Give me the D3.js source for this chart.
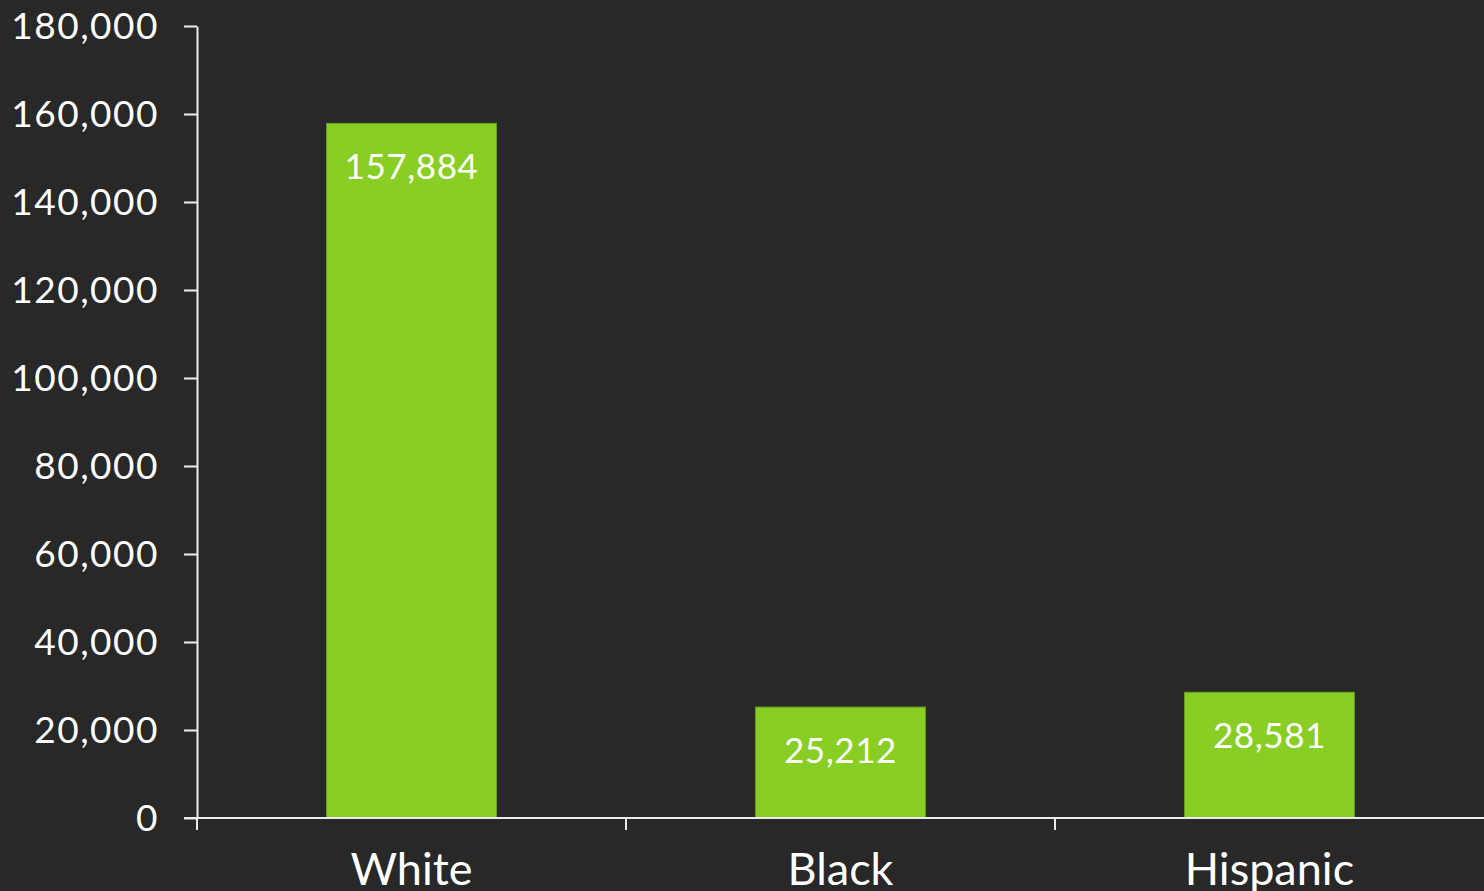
<!DOCTYPE html>
<html>
<head>
<meta charset="utf-8">
<script src="https://cdn.jsdelivr.net/npm/d3@7"></script>
<style>
  html, body { margin: 0; padding: 0; background: #282828; }
  svg { display: block; }
  text { font-family: "Lato", "Open Sans", sans-serif; fill: #ffffff; }
</style>
</head>
<body>
<svg id="chart" width="1484" height="891"></svg>
<script>
// Population by group
const categories = ["White", "Black", "Hispanic"];
const values = [157884, 25212, 28581];
const yTicks = [0, 20000, 40000, 60000, 80000, 100000, 120000, 140000, 160000, 180000];

const svg = d3.select("#chart");
const W = 1484, H = 891;
const plotLeft = 197, plotRight = 1484, plotTop = 26, plotBottom = 818;

svg.append("rect").attr("width", W).attr("height", H).attr("fill", "#282828");

const y = d3.scaleLinear().domain([0, 180000]).range([plotBottom, plotTop]);
const x = d3.scaleBand().domain(categories).range([plotLeft, plotRight])
  .paddingInner(0.604).paddingOuter(0.302);

const fmt = d3.format(",");
const axisColor = "#ececec";

// Y axis
const yAxis = svg.append("g").attr("transform", `translate(${plotLeft},0)`)
  .call(d3.axisLeft(y).tickValues(yTicks).tickFormat(fmt).tickSizeInner(13).tickSizeOuter(0).tickPadding(25));
yAxis.select(".domain").attr("stroke", axisColor).attr("stroke-width", 2);
yAxis.selectAll(".tick line").attr("stroke", axisColor).attr("stroke-width", 2);
yAxis.selectAll(".tick text").attr("font-size", 37).attr("fill", "#ffffff")
  .attr("font-family", "Lato, sans-serif").attr("letter-spacing", 1.5).attr("dy", "0.35em");

// Bars
svg.append("g").selectAll("rect").data(values).join("rect")
  .attr("x", (d, i) => x(categories[i]))
  .attr("y", d => y(d))
  .attr("width", x.bandwidth())
  .attr("height", d => plotBottom - y(d))
  .attr("fill", "#89ce25")
  .attr("stroke", "#6a9e20")
  .attr("stroke-width", 1);

// Value labels inside bars
svg.append("g").selectAll("text").data(values).join("text")
  .attr("x", (d, i) => x(categories[i]) + x.bandwidth() / 2)
  .attr("y", d => y(d) + 56)
  .attr("text-anchor", "middle")
  .attr("font-size", 35)
  .attr("letter-spacing", 0.6)
  .text(d => fmt(d));

// X axis line and category boundary ticks
svg.append("line").attr("x1", plotLeft - 13).attr("x2", plotRight).attr("y1", plotBottom).attr("y2", plotBottom)
  .attr("stroke", axisColor).attr("stroke-width", 2);
const boundaries = [plotLeft].concat(categories.slice(0, -1).map(c => x(c) + x.bandwidth() / 2 + x.step() / 2));
svg.append("g").selectAll("line").data(boundaries).join("line")
  .attr("x1", d => d).attr("x2", d => d)
  .attr("y1", plotBottom).attr("y2", plotBottom + 12)
  .attr("stroke", axisColor).attr("stroke-width", 2);

// Category labels
svg.append("g").selectAll("text").data(categories).join("text")
  .attr("x", d => x(d) + x.bandwidth() / 2)
  .attr("y", 885)
  .attr("text-anchor", "middle")
  .attr("font-size", 45)
  .text(d => d);
</script>
</body>
</html>
